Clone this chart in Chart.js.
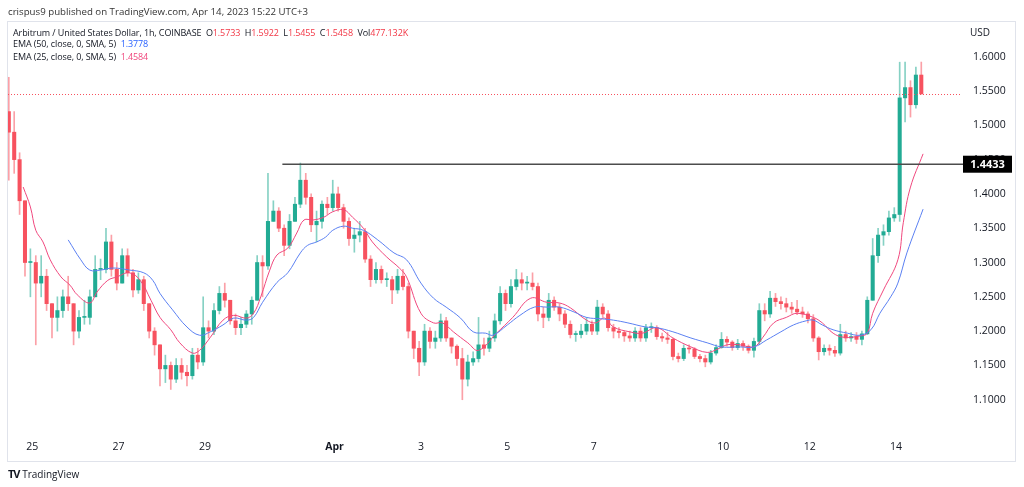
<!DOCTYPE html>
<html>
<head>
<meta charset="utf-8">
<script src="https://cdn.jsdelivr.net/npm/chart.js@4.4.0/dist/chart.umd.min.js"></script>
<style>
html, body { margin: 0; padding: 0; background: #fff; }
body { width: 1024px; height: 487px; position: relative; overflow: hidden; font-family: "Open Sans", sans-serif; }
#c { position: absolute; left: 0; top: 0; }
#frame { position: absolute; left: 7px; top: 21px; width: 1007px; height: 439px; border: 1px solid #e0e3eb; pointer-events: none; }
.txt { position: absolute; font-size: 10px; color: #131722; white-space: pre; line-height: 12px; }
.leg { font-size: 9px; letter-spacing: -0.1px; }
.r { color: #f23645; }
.b { color: #2962ff; }
.p { color: #f0487e; }
</style>
</head>
<body>
<canvas id="c" width="1024" height="487"></canvas>
<div id="frame"></div>
<div class="txt" style="left:8px;top:6px;color:#333;font-size:9.7px;">crispus9 published on TradingView.com, Apr 14, 2023 15:22 UTC+3</div>
<div class="txt leg" style="left:13px;top:27px;">Arbitrum / United States Dollar, 1h, COINBASE  O<span class="r">1.5733</span>  H<span class="r">1.5922</span>  L<span class="r">1.5455</span>  C<span class="r">1.5458</span>  Vol<span class="r">477.132K</span></div>
<div class="txt leg" style="left:13px;top:38px;">EMA (50, close, 0, SMA, 5)  <span class="b">1.3778</span></div>
<div class="txt leg" style="left:13px;top:51px;">EMA (25, close, 0, SMA, 5)  <span class="p">1.4584</span></div>
<div class="txt" style="left:970px;top:26px;">USD</div>
<div class="txt" style="left:8px;top:468px;font-size:10px;"><b style="font-size:11px;letter-spacing:-1px;">TV</b> TradingView</div>
<script>
// hours counted from Mar 25 00:00, one candle = 3 hours
const firstOpen = 1.52;
const closes = [
  1.49, 1.45, 1.39, 1.30, 1.30, 1.27, 1.28, 1.24, 1.22, 1.23,
  1.25, 1.24, 1.20, 1.22, 1.22, 1.25, 1.29, 1.29, 1.33, 1.29,
  1.27, 1.31, 1.285, 1.26, 1.275, 1.24, 1.20, 1.18, 1.145, 1.15,
  1.13, 1.15, 1.14, 1.135, 1.165, 1.155, 1.205, 1.20, 1.23, 1.255,
  1.245, 1.215, 1.205, 1.21, 1.225, 1.245, 1.30, 1.295, 1.36, 1.375,
  1.35, 1.325, 1.36, 1.385, 1.42, 1.395, 1.355, 1.36, 1.385, 1.38,
  1.40, 1.38, 1.36, 1.335, 1.34, 1.345, 1.305, 1.275, 1.29, 1.275,
  1.275, 1.26, 1.28, 1.265, 1.20, 1.175, 1.155, 1.20, 1.185, 1.19,
  1.215, 1.19, 1.178, 1.16, 1.13, 1.155, 1.16, 1.18, 1.175, 1.19,
  1.215, 1.255, 1.24, 1.265, 1.275, 1.27, 1.27, 1.265, 1.225, 1.22,
  1.245, 1.235, 1.225, 1.21, 1.195, 1.195, 1.20, 1.21, 1.20, 1.235,
  1.225, 1.205, 1.20, 1.198, 1.193, 1.19, 1.20, 1.19, 1.205, 1.205,
  1.192, 1.19, 1.188, 1.163, 1.16, 1.175, 1.174, 1.163, 1.16, 1.155,
  1.168, 1.176, 1.188, 1.184, 1.176, 1.182, 1.178, 1.172, 1.185, 1.23,
  1.225, 1.248, 1.243, 1.24, 1.235, 1.232, 1.228, 1.225, 1.218, 1.19,
  1.17, 1.175, 1.172, 1.168, 1.195, 1.19, 1.192, 1.188, 1.196, 1.245,
  1.31, 1.34, 1.345, 1.365, 1.37, 1.54, 1.555, 1.53, 1.5733, 1.5458
];
const highs = [
  1.57, 1.52, 1.46, 1.39, 1.32, 1.31, 1.31, 1.29, 1.24, 1.25,
  1.26, 1.28, 1.24, 1.23, 1.245, 1.26, 1.31, 1.305, 1.35, 1.34,
  1.30, 1.32, 1.32, 1.29, 1.285, 1.28, 1.24, 1.205, 1.18, 1.165,
  1.155, 1.16, 1.16, 1.15, 1.175, 1.175, 1.25, 1.215, 1.24, 1.265,
  1.27, 1.245, 1.225, 1.22, 1.23, 1.25, 1.31, 1.31, 1.43, 1.39,
  1.38, 1.355, 1.37, 1.395, 1.445, 1.43, 1.40, 1.375, 1.39, 1.395,
  1.42, 1.41, 1.385, 1.365, 1.35, 1.36, 1.35, 1.31, 1.30, 1.295,
  1.285, 1.28, 1.29, 1.29, 1.27, 1.20, 1.185, 1.21, 1.205, 1.20,
  1.225, 1.22, 1.19, 1.18, 1.175, 1.165, 1.17, 1.22, 1.19, 1.20,
  1.225, 1.265, 1.26, 1.275, 1.29, 1.285, 1.28, 1.285, 1.27, 1.235,
  1.255, 1.25, 1.24, 1.23, 1.215, 1.20, 1.21, 1.22, 1.215, 1.245,
  1.24, 1.23, 1.21, 1.205, 1.20, 1.20, 1.205, 1.205, 1.21, 1.212,
  1.208, 1.197, 1.198, 1.19, 1.168, 1.18, 1.18, 1.176, 1.166, 1.165,
  1.172, 1.18, 1.198, 1.192, 1.186, 1.188, 1.186, 1.18, 1.19, 1.24,
  1.24, 1.258, 1.255, 1.25, 1.248, 1.242, 1.245, 1.235, 1.228, 1.224,
  1.192, 1.18, 1.18, 1.178, 1.21, 1.20, 1.198, 1.198, 1.20, 1.25,
  1.335, 1.35, 1.355, 1.375, 1.38, 1.592, 1.592, 1.565, 1.585, 1.5922
];
const lows = [
  1.42, 1.43, 1.37, 1.28, 1.25, 1.18, 1.25, 1.23, 1.19, 1.20,
  1.22, 1.23, 1.18, 1.19, 1.21, 1.21, 1.25, 1.275, 1.285, 1.28,
  1.26, 1.27, 1.28, 1.25, 1.255, 1.23, 1.19, 1.165, 1.12, 1.125,
  1.115, 1.125, 1.13, 1.12, 1.13, 1.145, 1.15, 1.19, 1.195, 1.225,
  1.235, 1.21, 1.195, 1.195, 1.205, 1.21, 1.245, 1.25, 1.29, 1.36,
  1.345, 1.31, 1.32, 1.36, 1.38, 1.385, 1.345, 1.33, 1.35, 1.37,
  1.375, 1.375, 1.35, 1.325, 1.315, 1.33, 1.30, 1.265, 1.27, 1.27,
  1.265, 1.24, 1.255, 1.26, 1.19, 1.16, 1.135, 1.15, 1.175, 1.175,
  1.185, 1.185, 1.168, 1.15, 1.10, 1.12, 1.15, 1.155, 1.165, 1.17,
  1.185, 1.21, 1.23, 1.235, 1.26, 1.26, 1.26, 1.26, 1.215, 1.205,
  1.215, 1.23, 1.215, 1.205, 1.19, 1.185, 1.19, 1.195, 1.195, 1.195,
  1.22, 1.20, 1.19, 1.19, 1.185, 1.185, 1.185, 1.185, 1.185, 1.198,
  1.188, 1.185, 1.182, 1.158, 1.155, 1.157, 1.168, 1.16, 1.155, 1.148,
  1.152, 1.165, 1.175, 1.178, 1.172, 1.173, 1.172, 1.168, 1.162, 1.18,
  1.215, 1.22, 1.236, 1.232, 1.228, 1.226, 1.224, 1.22, 1.212, 1.185,
  1.158, 1.165, 1.165, 1.163, 1.165, 1.185, 1.185, 1.182, 1.18, 1.195,
  1.245, 1.30, 1.325, 1.34, 1.36, 1.36, 1.505, 1.512, 1.525, 1.5455
];
const candleHours = closes.map((c, i) => -13 + 3 * i);

const ema25Hours = [-5, -1, 2, 6, 10, 16, 21, 25, 32, 36, 42, 47, 54, 60, 66, 71, 77, 82, 89, 93, 99, 106, 112, 119, 123, 127, 132, 136, 142, 147, 151, 156, 162, 167, 173, 178, 184, 189, 197, 204, 208, 216, 223, 228, 234, 242, 248, 258, 267, 277, 286, 293, 299, 308, 313, 318, 323, 332, 339, 347, 356, 366, 375, 381, 386, 393, 401, 406, 412, 419, 425, 434, 439, 445, 451, 460, 464, 467, 473, 481, 484, 488, 495];
const ema25Values = [1.410, 1.381, 1.347, 1.330, 1.304, 1.279, 1.267, 1.253, 1.241, 1.257, 1.274, 1.279, 1.285, 1.274, 1.245, 1.220, 1.202, 1.183, 1.168, 1.172, 1.191, 1.216, 1.223, 1.219, 1.226, 1.250, 1.289, 1.311, 1.321, 1.343, 1.362, 1.362, 1.366, 1.374, 1.377, 1.366, 1.350, 1.330, 1.308, 1.292, 1.279, 1.226, 1.212, 1.212, 1.199, 1.183, 1.172, 1.197, 1.220, 1.248, 1.242, 1.241, 1.234, 1.216, 1.212, 1.219, 1.206, 1.199, 1.197, 1.205, 1.190, 1.177, 1.169, 1.174, 1.180, 1.180, 1.177, 1.191, 1.212, 1.220, 1.226, 1.220, 1.212, 1.197, 1.191, 1.193, 1.197, 1.226, 1.260, 1.304, 1.358, 1.410, 1.4584];

const ema50Hours = [20, 27, 32, 38, 45, 54, 62, 67, 71, 78, 86, 93, 99, 106, 112, 119, 123, 128, 136, 142, 149, 153, 158, 163, 167, 173, 178, 184, 192, 201, 208, 216, 223, 230, 238, 245, 252, 256, 264, 271, 279, 286, 293, 301, 308, 316, 323, 331, 341, 347, 356, 366, 375, 383, 393, 401, 408, 416, 423, 430, 434, 439, 445, 453, 460, 466, 471, 477, 481, 486, 495];
const ema50Values = [1.333, 1.304, 1.289, 1.289, 1.292, 1.289, 1.285, 1.274, 1.255, 1.231, 1.206, 1.194, 1.199, 1.209, 1.219, 1.216, 1.220, 1.242, 1.271, 1.285, 1.314, 1.325, 1.330, 1.337, 1.347, 1.353, 1.350, 1.347, 1.333, 1.314, 1.304, 1.270, 1.248, 1.235, 1.219, 1.199, 1.197, 1.194, 1.209, 1.223, 1.235, 1.235, 1.235, 1.228, 1.220, 1.218, 1.216, 1.212, 1.206, 1.205, 1.199, 1.190, 1.183, 1.177, 1.177, 1.177, 1.187, 1.199, 1.209, 1.215, 1.216, 1.209, 1.202, 1.197, 1.194, 1.202, 1.226, 1.250, 1.270, 1.314, 1.3778];

const dayHours = [0, 48, 96, 168, 216, 264, 312, 384, 432, 480];
const dayLabels = ['25', '27', '29', 'Apr', '3', '5', '7', '10', '12', '14'];
const priceTicks = [1.10, 1.15, 1.20, 1.25, 1.30, 1.35, 1.40, 1.45, 1.50, 1.55, 1.60];

const levelPrice = 1.4433;
const levelStartHour = 139;
const lastClose = 1.5458;

const opens = closes.map((c, i) => i === 0 ? firstOpen : closes[i - 1]);
const upColor = '#22ab94', downColor = '#f7525f';
const isUp = closes.map((c, i) => c >= opens[i]);

Chart.defaults.font.family = "'Open Sans', sans-serif";

const levelPlugin = {
  id: 'levels',
  afterDatasetsDraw(chart) {
    const ctx = chart.ctx, ys = chart.scales.y, area = chart.chartArea;
    ctx.save();
    // last price dotted line
    const yc = Math.round(ys.getPixelForValue(lastClose)) + 0.5;
    ctx.strokeStyle = '#f7525f';
    ctx.lineWidth = 1;
    ctx.setLineDash([1, 2]);
    ctx.beginPath();
    ctx.moveTo(area.left + 1, yc);
    ctx.lineTo(area.right + 4, yc);
    ctx.stroke();
    ctx.setLineDash([]);
    ctx.restore();
  },
  afterDraw(chart) {
    const ctx = chart.ctx, xs = chart.scales.x, ys = chart.scales.y;
    ctx.save();
    const yl = ys.getPixelForValue(levelPrice);
    ctx.strokeStyle = '#4c4c4c';
    ctx.lineWidth = 1.5;
    ctx.beginPath();
    ctx.moveTo(xs.getPixelForValue(levelStartHour), yl);
    ctx.lineTo(964, yl);
    ctx.stroke();
    ctx.fillStyle = '#000';
    ctx.fillRect(963, yl - 8.5, 49, 17);
    ctx.fillStyle = '#fff';
    ctx.font = "bold 11px 'Open Sans', sans-serif";
    ctx.textAlign = 'center';
    ctx.textBaseline = 'middle';
    ctx.fillText(levelPrice.toFixed(4), 987.5, yl + 0.5);
    ctx.restore();
  }
};

new Chart(document.getElementById('c'), {
  type: 'bar',
  data: {
    datasets: [
      {
        type: 'line',
        data: ema50Hours.map((h, i) => ({ x: h, y: ema50Values[i] })),
        borderColor: '#5b80f2',
        borderWidth: 1,
        pointRadius: 0,
        tension: 0.4,
        order: 0
      },
      {
        type: 'line',
        data: ema25Hours.map((h, i) => ({ x: h, y: ema25Values[i] })),
        borderColor: '#f0487e',
        borderWidth: 1,
        pointRadius: 0,
        tension: 0.4,
        order: 0
      },
      {
        data: candleHours.map((h, i) => ({ x: h, y: [opens[i], closes[i]] })),
        backgroundColor: isUp.map(u => u ? upColor : downColor),
        barThickness: 3.4,
        minBarLength: 1,
        grouped: false,
        order: 1
      },
      {
        data: candleHours.map((h, i) => ({ x: h, y: [Math.min(lows[i], opens[i], closes[i]), Math.max(highs[i], opens[i], closes[i])] })),
        backgroundColor: isUp.map(u => u ? 'rgba(34,171,148,0.55)' : 'rgba(247,82,95,0.55)'),
        barThickness: 1,
        grouped: false,
        order: 2
      }
    ]
  },
  options: {
    responsive: false,
    animation: false,
    layout: { padding: { left: 7, right: 9, top: 22, bottom: 26 } },
    plugins: { legend: { display: false }, tooltip: { enabled: false } },
    scales: {
      x: {
        type: 'linear',
        min: -14,
        max: 514.4,
        offset: false,
        grid: { display: false, drawTicks: false },
        border: { display: false },
        afterBuildTicks: s => { s.ticks = dayHours.map(v => ({ value: v })); },
        afterFit: s => { s.height = 28; },
        ticks: {
          padding: 8,
          maxRotation: 0,
          autoSkip: false,
          color: '#131722',
          font: c => ({ size: 10.5, weight: (c.tick && c.tick.value === 168) ? 'bold' : 'normal' }),
          callback: v => dayLabels[dayHours.indexOf(v)]
        }
      },
      y: {
        type: 'linear',
        position: 'right',
        min: 1.0515,
        max: 1.6506,
        grid: { display: false, drawTicks: false },
        border: { display: false },
        afterBuildTicks: s => { s.ticks = priceTicks.map(v => ({ value: v })); },
        afterFit: s => { s.width = 57; },
        ticks: {
          padding: 15,
          color: '#131722',
          font: { size: 10.5 },
          callback: v => v.toFixed(4)
        }
      }
    }
  },
  plugins: [levelPlugin]
});
</script>
</body>
</html>
